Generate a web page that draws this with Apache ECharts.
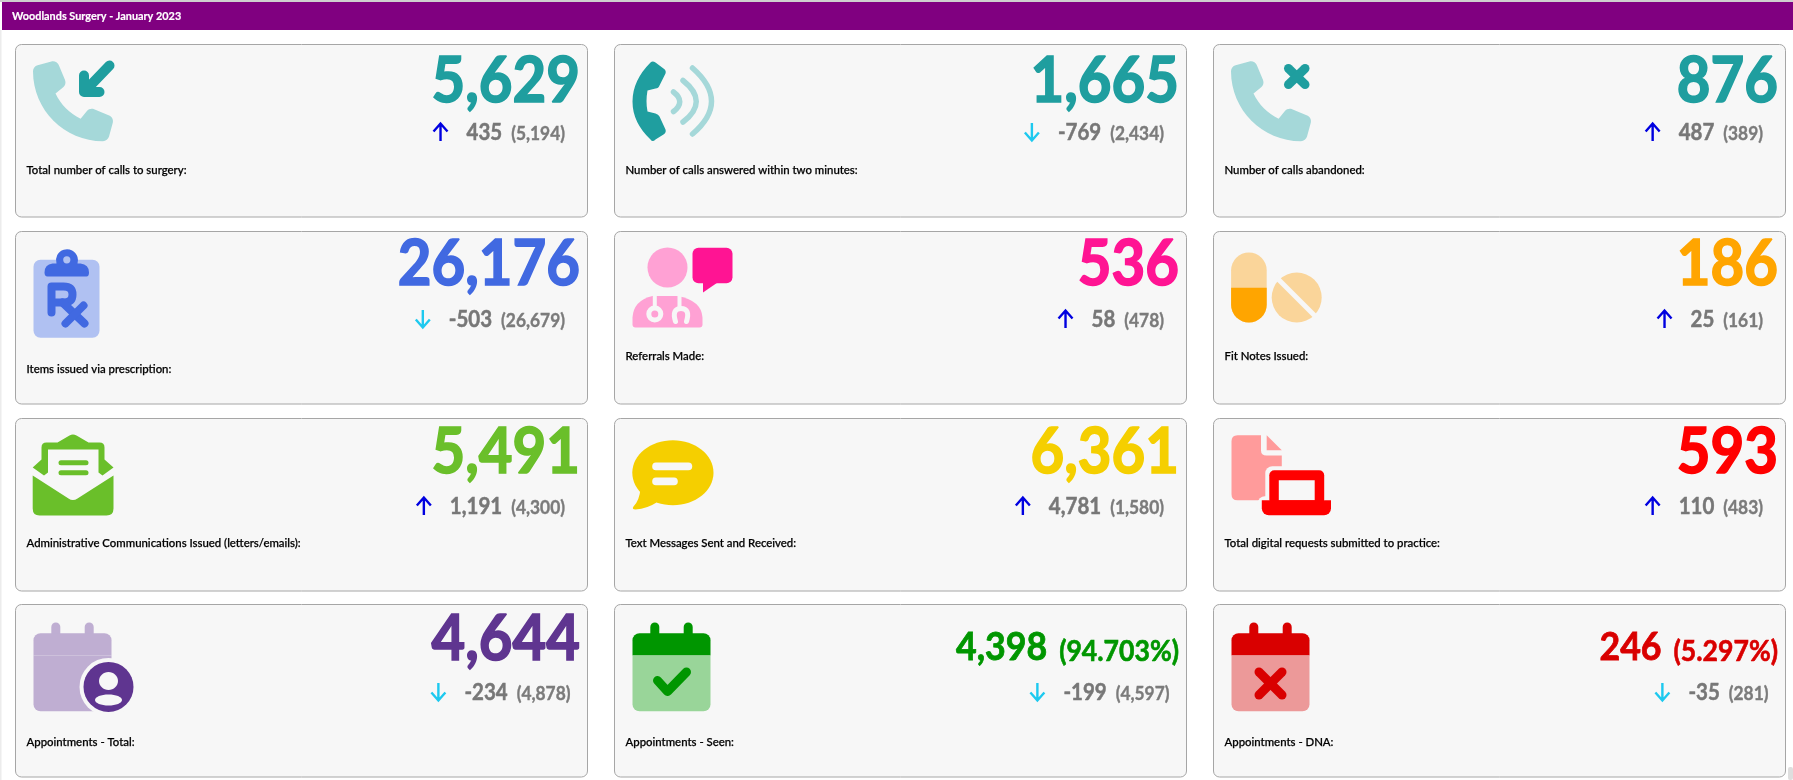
<!DOCTYPE html>
<html>
<head>
<meta charset="utf-8">
<style>
html, body { margin: 0; padding: 0; background: #fff; overflow: hidden; }
#main { width: 1793px; height: 780px; }
</style>
<script src="https://cdn.jsdelivr.net/npm/echarts@6/dist/echarts.min.js"></script>
</head>
<body>
<div id="main"></div>
<script>
const pageTitle = "Woodlands Surgery - January 2023";
const cardTitles = [
    "Total number of calls to surgery:", "Number of calls answered within two minutes:", "Number of calls abandoned:",
    "Items issued via prescription:", "Referrals Made:", "Fit Notes Issued:",
    "Administrative Communications Issued (letters/emails):", "Text Messages Sent and Received:", "Total digital requests submitted to practice:",
    "Appointments - Total:", "Appointments - Seen:", "Appointments - DNA:"
];
const cardValues = [5629, 1665, 876, 26176, 536, 186, 5491, 6361, 593, 4644, 4398, 246];
const cardChanges = [435, -769, 487, -503, 58, 25, 1191, 4781, 110, -234, -199, -35];
const cardPrevious = [5194, 2434, 389, 26679, 478, 161, 4300, 1580, 483, 4878, 4597, 281];
const cardPercents = [null, null, null, null, null, null, null, null, null, null, 94.703, 5.297];

// 样式和布局，和数据分开放
const cardColors = ["#1f9e9f", "#1f9e9f", "#1f9e9f", "#4169e1", "#ff1493", "#ffa500", "#6abf2a", "#f5cf00", "#ff0000", "#5f3590", "#009600", "#d90000"];
const cardLight = ["#a5d8d9", "#a5d8d9", "#a5d8d9", "#b0c1f2", "#ffa1d4", "#fad59a", "#6abf2a", "#f5cf00", "#ff9b9b", "#bfaed2", "#99d599", "#ec9999"];
const colX = [15.5, 614.5, 1213.5];
const rowY = [44.5, 231.5, 418.5, 604.5];
const cardW = 572, cardH = 172.5;
const valueBase = [59, 59, 59, 55, 55, 55, 56, 56, 56, 57, 57, 57];
const labelMid = [126, 126, 126, 137.5, 125, 125, 125, 125, 125, 138, 138, 138];
const cardBg = "#f7f7f7";
const phonePath = "M164.9 24.6c-7.7-18.6-28-28.5-47.4-23.2l-88 24C12.1 30.2 0 46 0 64C0 311.4 200.6 512 448 512c18 0 33.8-12.1 38.6-29.5l24-88c5.3-19.4-4.6-39.7-23.2-47.4l-96-40c-16.3-6.8-35.2-2.1-46.3 11.6L304.7 368C234.3 334.7 177.3 277.7 144 207.3L193.3 167c13.7-11.2 18.4-30 11.6-46.3l-40-96z";

(function(){
    const myChart = echarts.init(document.querySelector("#main"));
    const measure = document.createElement("canvas").getContext("2d");

    function textW(text, font) {
        measure.font = font;
        return measure.measureText(text).width;
    }
    // 文字按基线定位，Lato 的 middle 大约在基线上方 0.35em；描边让字重接近原图
    function lato(text, x, base, size, color, align, sx, heavy) {
        return {
            type: "text", x: x, y: base - size * 0.35, scaleX: sx || 1,
            style: {
                text: text, x: 0, y: 0, fill: color, textAlign: align, textVerticalAlign: "middle",
                font: "bold " + size + "px Lato",
                stroke: color, lineWidth: heavy || 0
            }
        };
    }
    function fill(d, color) {
        return { type: "path", shape: { pathData: d }, style: { fill: color } };
    }
    function line(d, color, width, cap) {
        return { type: "path", shape: { pathData: d }, style: { fill: "none", stroke: color, lineWidth: width, lineCap: cap || "round", lineJoin: "round" } };
    }
    function box(x, y, w, h, r, color) {
        return { type: "rect", shape: { x: x, y: y, width: w, height: h, r: r }, style: { fill: color } };
    }
    function disc(x, y, r, color) {
        return { type: "circle", shape: { cx: x, cy: y, r: r }, style: { fill: color } };
    }
    function phone(color) {
        return { type: "path", shape: { pathData: phonePath, layout: "cover", x: 17.5, y: 16.7, width: 80, height: 80 }, style: { fill: color } };
    }
    function calendar(dark, light) {
        return [
            box(35.8, 18, 9, 20, 4.5, dark), box(69.2, 18, 9, 20, 4.5, dark),
            box(18, 28.7, 78, 22.3, [7, 7, 0, 0], dark),
            box(18, 51, 78, 55.7, [0, 0, 7, 7], light)
        ];
    }

    // 十二个图标，坐标相对卡片左上角
    const iconBuilders = [
        function(d, l) {
            return [
                phone(l),
                line("M94 21L70 46", d, 10),
                line("M68.5 31L68.5 47.5L84 47.5", d, 10)
            ];
        },
        function(d, l) {
            return [
                fill("M36 18Q38 16 41 18L49 24Q52 26 51 29L45 41Q44 44 41 44L33 46Q31 57 33 67L41 69Q44 70 45 72L51 85Q52 88 49 90L41 95Q38 98 36 95Q18 78 18 57Q18 36 36 18Z", d),
                line("M59 47.5Q71.5 57 59 67", l, 5.5),
                line("M68.5 36Q95 57 68.5 77.5", l, 5.5),
                line("M78 23.5Q116 57 78 89.5", l, 5.5)
            ];
        },
        function(d, l) {
            return [
                phone(l),
                line("M75 24L91.5 40", d, 9),
                line("M91.5 24L75 40", d, 9)
            ];
        },
        function(d, l) {
            return [
                box(18, 28.3, 66, 78, 7, l),
                fill("M29 41Q29 33 37 32L41 32A11 11 0 1 1 62 32L65 32Q73.5 33 73.5 41Q73.5 45 71 45L32 45Q29 45 29 41Z", d),
                disc(51.3, 28.3, 3.6, l),
                line("M36 81L36 55L48 55Q57 55 57 63Q57 71 48 71L36 71", d, 8),
                line("M47 71L69 92", d, 8),
                line("M68 74L50 92", d, 8)
            ];
        },
        function(d, l) {
            return [
                disc(53, 36, 20, l),
                fill("M21 96Q18 96 18 93L18 86Q19 69 38 64.5L63 64.5Q87 69 88 86L88 93Q88 96 85 96Z", l),
                line("M40.3 64L40.3 76", cardBg, 4),
                line("M65 64L65 76", cardBg, 4),
                { type: "circle", shape: { cx: 40.3, cy: 82.5 , r: 6 }, style: { fill: "none", stroke: cardBg, lineWidth: 5 } },
                line("M61 90Q57 77 66.5 77Q76 77 72 90", cardBg, 5),
                box(78, 16.3, 40, 35.5, 6, d),
                fill("M88.5 50L88.5 61L104.5 50Z", d)
            ];
        },
        function(d, l) {
            return [
                box(17.6, 21, 35.6, 70, 17.8, l),
                box(17.6, 56.3, 35.6, 34.7, [0, 0, 17.8, 17.8], d),
                disc(83.2, 66, 25, l),
                line("M62 45L105 88", cardBg, 5, "butt")
            ];
        },
        function(d) {
            return [
                fill("M17.2 49L26 41L26 29Q26 24 31 24L42 24L54 17Q57.4 15 61 17L73 24L84 24Q89 24 89 29L89 41L98 49L87 57L83 54L83 31L32.5 31L32.5 54L28.5 57Z", d),
                box(43, 41.7, 30, 5, 2.5, d),
                box(43, 51.7, 30, 5, 2.5, d),
                fill("M17.2 57L53 80Q57.4 83 62 80L98 57L98 90Q98 97 91 97L24 97Q17.2 97 17.2 90Z", d)
            ];
        },
        function(d) {
            return [
                { type: "ellipse", shape: { cx: 58.4, cy: 54.2, rx: 40.6, ry: 32.5 }, style: { fill: d } },
                fill("M26 70Q25 82 19 88Q17 91 21 91Q33 90 42 84Z", d),
                box(37.7, 44, 40, 7.7, 3.8, cardBg),
                box(37.7, 59, 25.6, 7.7, 3.8, cardBg)
            ];
        },
        function(d, l) {
            return [
                fill("M24 16.7L47.5 16.7L47.5 32Q47.5 37 53 37L68.3 37L68.3 81.7L24 81.7Q18 81.7 18 75.7L18 22.7Q18 16.7 24 16.7Z", l),
                fill("M53.2 16.7L68.3 31.7L53.2 31.7Z", l),
                box(51.8, 47.7, 62.9, 38, 7, cardBg),
                box(44.3, 77.7, 77.2, 23, 7, cardBg),
                box(55.8, 51.7, 54.9, 34, 5, d),
                box(65.3, 61.7, 35.9, 20, 0, cardBg),
                box(48.3, 81.7, 69.2, 15, [0, 0, 7, 7], d)
            ];
        },
        function(d, l) {
            return calendar(l, l).concat([
                disc(93, 82.4, 29, cardBg),
                disc(93, 82.4, 25, d),
                { type: "ellipse", shape: { cx: 93, cy: 76.6, rx: 9.5, ry: 9 }, style: { fill: cardBg } },
                { type: "ellipse", shape: { cx: 93, cy: 95.5, rx: 13.5, ry: 5.5 }, style: { fill: cardBg } }
            ]);
        },
        function(d, l) {
            return calendar(d, l).concat([line("M43 76L53 87L72 67.5", d, 9)]);
        },
        function(d, l) {
            return calendar(d, l).concat([
                line("M45.5 67.5L68.5 90.5", d, 9),
                line("M68.5 67.5L45.5 90.5", d, 9)
            ]);
        }
    ];

    function renderCard(params, api) {
        const i = api.value(0);
        const right = cardW - 7.5;
        const children = [{
            type: "rect",
            shape: { x: 0, y: 0, width: cardW, height: cardH, r: 6 },
            style: { fill: cardBg, stroke: "#a6a6a6", lineWidth: 1 }
        }];
        iconBuilders[i](cardColors[i], cardLight[i]).forEach(function(el) { children.push(el); });

        // 主数值
        const valueText = echarts.format.addCommas(cardValues[i]);
        if (cardPercents[i] === null) {
            children.push(lato(valueText, right, valueBase[i], 62.5, cardColors[i], "right", 0.93, 1.6));
        } else {
            const pctText = "(" + cardPercents[i].toFixed(3) + "%)";
            const pctW = textW(pctText, "bold 28px Lato") * 0.95;
            children.push(lato(pctText, right, valueBase[i], 28, cardColors[i], "right", 0.95, 0.6));
            children.push(lato(valueText, right - pctW - 12, valueBase[i], 38, cardColors[i], "right", 0.94, 0.8));
        }

        // 环比变化和上期数值
        const subRight = cardW - (i >= 9 ? 17 : 22.5);
        const subBase = 96;
        const prevText = "(" + echarts.format.addCommas(cardPrevious[i]) + ")";
        const changeText = echarts.format.addCommas(cardChanges[i]);
        const prevW = textW(prevText, "bold 19.5px Lato") * 0.89;
        const changeRight = subRight - prevW - 9;
        const changeW = textW(changeText, "bold 22.5px Lato") * 0.91;
        children.push(lato(prevText, subRight, subBase, 19.5, "#7b7b7b", "right", 0.89, 0.4));
        children.push(lato(changeText, changeRight, subBase, 22.5, "#777777", "right", 0.91, 0.5));
        // 箭头是图标，不是文字
        const up = cardChanges[i] >= 0;
        children.push({
            type: "path",
            x: changeRight - changeW - 26, y: subBase - 8.5,
            shape: { pathData: up ? "M0 9L0 -8.5M-7 -0.5L0 -8.5L7 -0.5" : "M0 -9L0 8.5M-7 0.5L0 8.5L7 0.5" },
            style: { fill: "none", stroke: up ? "#0000e0" : "#1dc9ef", lineWidth: 2.4, lineCap: "butt", lineJoin: "miter" }
        });

        // 卡片标题
        children.push({
            type: "text", x: 11, y: labelMid[i], scaleX: 0.99,
            style: {
                text: cardTitles[i], x: 0, y: 0, fill: "#000",
                textAlign: "left", textVerticalAlign: "middle",
                font: "500 11.5px Lato",
                stroke: "#000", lineWidth: 0.25
            }
        });

        return { type: "group", x: colX[i % 3], y: rowY[Math.floor(i / 3)], children: children };
    }

    const option = {
        animation: false,
        backgroundColor: "#fff",
        graphic: {
            elements: [
                { type: "rect", shape: { x: 0, y: 0, width: 1793, height: 2 }, style: { fill: "#cfcfcf" } },
                { type: "rect", shape: { x: 0, y: 30, width: 1.5, height: 750 }, style: { fill: "#ececec" } },
                { type: "rect", shape: { x: 2, y: 2, width: 1791, height: 28 }, style: { fill: "#800080" } },
                lato(pageTitle, 12, 20.5, 12, "#fff", "left", 0.905, 0.2),
                { type: "rect", shape: { x: 1788, y: 767, width: 5, height: 13, r: 2 }, style: { fill: "#dedede" } }
            ]
        },
        series: [
            {
                type: "custom",
                coordinateSystem: "none",
                silent: true,
                clip: false,
                data: cardValues.map(function(v, i) { return [i, v]; }),
                renderItem: renderCard
            }
        ]
    };
    myChart.setOption(option);

    window.addEventListener("resize", function() {
        myChart.resize();
    });
})();
</script>
</body>
</html>
